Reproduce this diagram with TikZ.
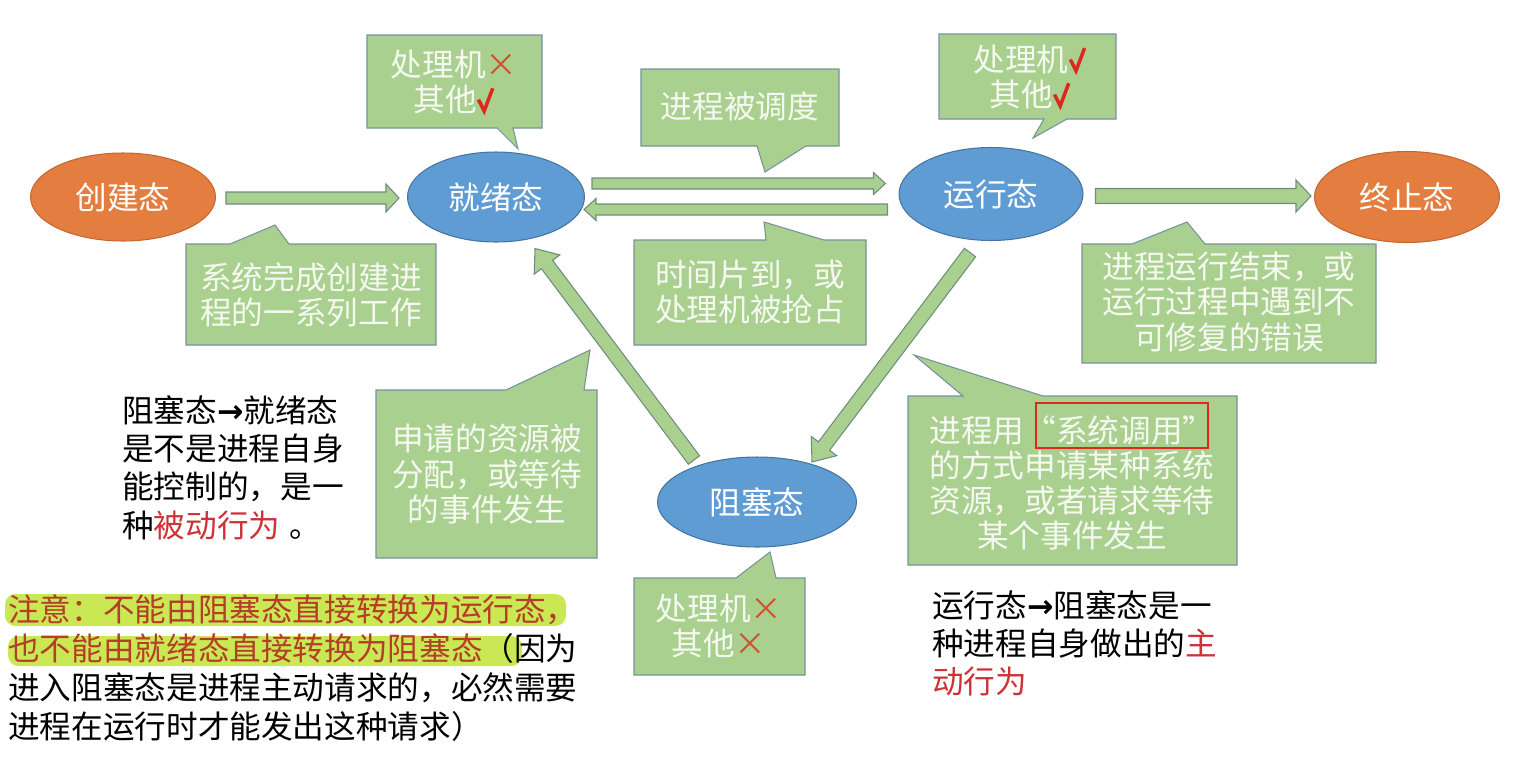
\documentclass[tikz,border=0pt]{standalone}
\usepackage{fontspec}
\setmainfont{Noto Sans CJK SC}
\newfontfamily\symfont{DejaVu Sans}
\usetikzlibrary{calc, shapes.geometric}

\definecolor{boxfill}{RGB}{169,208,142}
\definecolor{boxdraw}{RGB}{118,146,158}
\definecolor{arrdraw}{RGB}{112,140,128}
\definecolor{stateblue}{RGB}{96,156,212}
\definecolor{blueline}{RGB}{70,116,160}
\definecolor{stateorange}{RGB}{228,126,64}
\definecolor{orangeline}{RGB}{196,102,48}
\definecolor{markred}{RGB}{222,40,30}
\definecolor{crossred}{RGB}{210,80,50}
\definecolor{notered}{RGB}{205,50,55}
\definecolor{warnred}{RGB}{180,62,40}
\definecolor{hilite}{RGB}{202,232,84}
\definecolor{lighttext}{RGB}{246,249,241}

\newcommand{\callfont}{\fontsize{18}{20}\selectfont}
\newcommand{\notefont}{\fontsize{18}{21.8}\selectfont}
\newcommand{\okmark}{\tikz[baseline=0pt]\draw[markred, line width=2pt, line join=miter]
  (0,0.38em) -- (0.18em,0.02em) -- (0.45em,0.74em);}
\newcommand{\xmark}{\textcolor{crossred}{×}}
\newcommand{\rarr}{{\symfont\bfseries →}}
\newcommand{\fwq}[1]{{\addfontfeatures{CharacterWidth=Full}#1}}

% block arrow: tail, tip, shaft half width, head half width, head length
\newcommand{\garrow}[5]{%
  \coordinate (hb) at ($(#2)!#5!(#1)$);
  \draw[blockarr] ($(#1)!#3!90:(#2)$) -- ($(hb)!#3!-90:(#1)$)
    -- ($(hb)!#4!-90:(#1)$) -- (#2) -- ($(hb)!#4!90:(#1)$)
    -- ($(hb)!#3!90:(#1)$) -- ($(#1)!#3!-90:(#2)$) -- cycle;}

\tikzset{
  bluestate/.style={ellipse, fill=stateblue, draw=blueline, line width=0.6pt,
    text=white, font=\callfont, inner sep=0pt},
  orangestate/.style={ellipse, fill=stateorange, draw=orangeline, line width=0.6pt,
    text=white, font=\callfont, inner sep=0pt},
  callbox/.style={fill=boxfill, draw=boxdraw, line width=0.6pt},
  callnote/.style={align=center, text=lighttext, font=\callfont, inner sep=0pt},
  blockarr/.style={fill=boxfill, draw=arrdraw, line width=0.6pt},
  note/.style={align=left, font=\notefont, inner sep=0pt, anchor=north west},
}

\begin{document}
\begin{tikzpicture}[x=0.02cm, y=-0.02cm]
  \useasboundingbox (0,0) rectangle (1534,758);

  % callouts
  \draw[callbox] (367,35) -- (542,35) -- (542,128) -- (513,128) -- (518,149) -- (497,128) -- (367,128) -- cycle;
  \draw[callbox] (641,69) -- (839,69) -- (839,146) -- (806,146) -- (765,172) -- (757,146) -- (641,146) -- cycle;
  \draw[callbox] (939,34) -- (1116,34) -- (1116,119) -- (1067,119) -- (1033,138) -- (1044,119) -- (939,119) -- cycle;
  \draw[callbox] (186,244) -- (230,244) -- (275,225) -- (289,244) -- (436,244) -- (436,345) -- (186,345) -- cycle;
  \draw[callbox] (634,240) -- (766,240) -- (764,222) -- (824,240) -- (866,240) -- (866,345) -- (634,345) -- cycle;
  \draw[callbox] (1082,244) -- (1132,244) -- (1187,222) -- (1205,244) -- (1376,244) -- (1376,363) -- (1082,363) -- cycle;
  \draw[callbox] (376,390) -- (506,390) -- (590,350) -- (584,390) -- (597,390) -- (597,558) -- (376,558) -- cycle;
  \draw[callbox] (634,578) -- (736,578) -- (770,552) -- (776,578) -- (805,578) -- (805,675) -- (634,675) -- cycle;
  \draw[callbox] (908,396) -- (963,396) -- (914,355) -- (1043,396) -- (1237,396) -- (1237,565) -- (908,565) -- cycle;

  \node[callnote] (readycpu) at (454,82) {处理机\xmark\\其他\okmark};
  \node[callnote] (dispatch) at (740,106) {进程被调度};
  \node[callnote] (runcpu) at (1030,77) {处理机\okmark\\其他\okmark};
  \node[callnote] (newwork) at (311,295) {系统完成创建进\\程的一系列工作};
  \node[callnote] (timeout) at (750,292) {时间片到，或\\处理机被抢占};
  \node[callnote] (finish) at (1229,302) {进程运行结束，或\\运行过程中遇到不\\可修复的错误};
  \node[callnote] (wakeup) at (487,474) {申请的资源被\\分配，或等待\\的事件发生};
  \node[callnote] (blockcpu) at (719,626) {处理机\xmark\\其他\xmark};
  \node[callnote] (syscall) at (1072,483) {进程用\fwq{“}系统调用\fwq{”}\\的方式申请某种系统\\资源，或者请求等待\\某个事件发生};
  \draw[draw=markred, line width=1.3pt] (1036,403) rectangle (1208,448);

  % states
  \node[orangestate, minimum width=3.70cm, minimum height=1.76cm] (create) at (123,197) {创建态};
  \node[bluestate, minimum width=3.54cm, minimum height=1.80cm] (ready) at (496,197) {就绪态};
  \node[bluestate, minimum width=3.68cm, minimum height=1.86cm] (run) at (991,194) {运行态};
  \node[orangestate, minimum width=3.70cm, minimum height=1.82cm] (exit) at (1407,197) {终止态};
  \node[bluestate, minimum width=3.98cm, minimum height=1.80cm] (blocked) at (757,502) {阻塞态};

  % transitions
  \coordinate (a1t) at ($(create.east)+(10,1)$);
  \coordinate (a1h) at ($(ready.west)+(-8,1)$);
  \coordinate (a2t) at ($(ready.east)+(7,-13.5)$);
  \coordinate (a2h) at ($(run.west)+(-13,-10.5)$);
  \coordinate (a3t) at ($(run.west)+(-11,15.5)$);
  \coordinate (a3h) at ($(ready.east)+(-1,12.5)$);
  \coordinate (a4t) at ($(blocked)+(-63,-42)$);
  \coordinate (a4h) at ($(ready.south)+(39,6)$);
  \coordinate (a5t) at ($(run.south)+(-21,11.5)$);
  \coordinate (a5h) at ($(blocked)+(55,-40)$);
  \coordinate (a6t) at ($(run.east)+(12,2)$);
  \coordinate (a6h) at ($(exit.west)+(-3,-1)$);

  \garrow{a1t}{a1h}{0.12cm}{0.28cm}{0.26cm}
  \garrow{a2t}{a2h}{0.11cm}{0.22cm}{0.24cm}
  \garrow{a3t}{a3h}{0.11cm}{0.22cm}{0.24cm}
  \garrow{a4t}{a4h}{0.14cm}{0.32cm}{0.40cm}
  \garrow{a5t}{a5h}{0.14cm}{0.32cm}{0.40cm}
  \garrow{a6t}{a6h}{0.15cm}{0.32cm}{0.30cm}

  % side notes
  \node[note] (passive) at (122,395) {阻塞态\rarr 就绪态\\是不是进程自身\\能控制的，是一\\种\textcolor{notered}{被动行为}\hspace{0.3em}。};
  \node[note] (active) at (932,590) {运行态\rarr 阻塞态是一\\种进程自身做出的\textcolor{notered}{主}\\\textcolor{notered}{动行为}};

  \fill[hilite, rounded corners=6pt] (5,594) rectangle (566,626);
  \fill[hilite, rounded corners=6pt] (8,636) rectangle (522,666);
  \node[note, font=\fontsize{18}{22.2}\selectfont] (warning) at (8,594)
    {\textcolor{warnred}{注意：不能由阻塞态直接转换为运行态，}\\
     \textcolor{warnred}{也不能由就绪态直接转换为阻塞态}（因为\\
     进入阻塞态是进程主动请求的，必然需要\\
     进程在运行时才能发出这种请求）};
\end{tikzpicture}
\end{document}
